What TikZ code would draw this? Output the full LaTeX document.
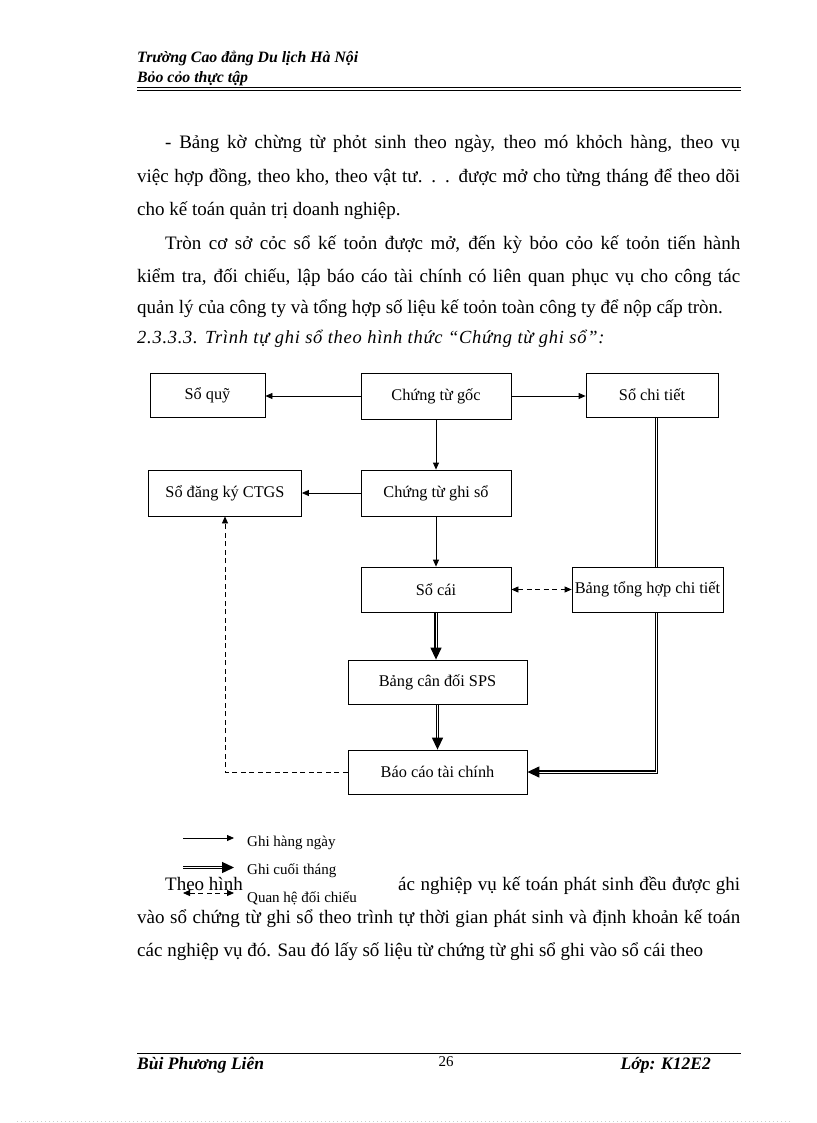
\documentclass[tikz,border=0pt]{standalone}
\usepackage{fontspec}
\setmainfont{Liberation Serif}
\usetikzlibrary{arrows.meta,backgrounds}

\begin{document}
\begin{tikzpicture}[x=1pt,y=-1pt,>={Triangle[length=7pt,width=6pt]},
box/.style={draw,line width=0.8pt,minimum height=44pt,inner sep=0pt,font=\fontsize{16.3}{18}\selectfont},
daily/.style={->,line width=0.8pt},
monthly/.style={double,double distance=1pt,line width=1.3pt},
monthly arrow/.style={monthly,-{Triangle[length=12pt,width=11pt]}},
check/.style={line width=0.8pt,dash pattern=on 5pt off 3.5pt},
body/.style={anchor=base west,inner sep=0pt,font=\fontsize{19}{22}\selectfont},
head/.style={anchor=base west,inner sep=0pt,font=\fontsize{15.8}{18}\selectfont\bfseries\itshape},
foot/.style={head,font=\fontsize{17.5}{19}\selectfont\bfseries\itshape},
legend/.style={anchor=west,inner sep=0pt,font=\fontsize{15}{17}\selectfont}]
\useasboundingbox (0,0) rectangle (816,1123);

% header and footer
\node[head] (school) at (137,63) {Trường Cao đẳng Du lịch Hà Nội};
\node[head] (report) at (137,83) {Bỏo cỏo thực tập};
\draw[line width=1.2pt] (137,87.5) -- (741,87.5);
\draw[line width=0.6pt] (137,90.5) -- (741,90.5);
\draw[line width=0.9pt] (137,1053) -- (741,1053);
\node[foot] (author) at (137,1069) {Bùi Phương Liên};
\node[anchor=base,inner sep=0pt,font=\fontsize{15}{17}\selectfont] (page) at (446,1066) {26};
\node[foot,anchor=base east] (class) at (711,1069) {Lớp: K12E2};
\draw[gray!40,line width=0.5pt,dash pattern=on 1pt off 3pt] (17,1121) -- (792,1121);

% text above the diagram
\node[body] (p1) at (165,149) {\makebox[575pt][s]{- Bảng kờ chừng từ phỏt sinh theo ngày, theo mó khỏch hàng, theo vụ}};
\node[body] (p2) at (137,183) {\makebox[603pt][s]{việc hợp đồng, theo kho, theo vật tư. . . được mở cho từng tháng để theo dõi}};
\node[body] (p3) at (137,216) {cho kế toán quản trị doanh nghiệp.};
\node[body] (p4) at (165,249) {\makebox[575pt][s]{Tròn cơ sở cỏc sổ kế toỏn được mở, đến kỳ bỏo cỏo kế toỏn tiến hành}};
\node[body] (p5) at (137,282) {\makebox[603pt][s]{kiểm tra, đối chiếu, lập báo cáo tài chính có liên quan phục vụ cho công tác}};
\node[body] (p6) at (137,313) {quản lý của công ty và tổng hợp số liệu kế toỏn toàn công ty để nộp cấp tròn.};
\node[body,font=\fontsize{18.5}{20}\selectfont\itshape\addfontfeatures{LetterSpace=4}] (title) at (137,343) {2.3.3.3. Trình tự ghi sổ theo hình thức “Chứng từ ghi sổ”:};

% diagram
\node[box,minimum width=115pt] (quy) at (207.5,395) {Sổ quỹ};
\node[box,minimum width=150pt,minimum height=46pt] (goc) at (436,396) {Chứng từ gốc};
\node[box,minimum width=132pt] (chitiet) at (652,395) {Sổ chi tiết};
\node[box,minimum width=153pt,minimum height=46pt] (dangky) at (225,493) {Sổ đăng ký CTGS};
\node[box,minimum width=150pt,minimum height=46pt] (ghiso) at (436,493) {Chứng từ ghi sổ};
\node[box,minimum width=150pt,minimum height=45pt] (socai) at (436,589.5) {Sổ cái};
\node[box,minimum width=151pt,minimum height=45pt] (tonghop) at (647.5,589.5) {Bảng tổng hợp chi tiết};
\node[box,minimum width=179pt] (candoi) at (437.5,682) {Bảng cân đối SPS};
\node[box,minimum width=179pt] (baocao) at (437.5,772) {Báo cáo tài chính};
\coordinate (side) at (656.5,772);

\begin{scope}[on background layer]
\fill[white] (0,0) rectangle (816,1123);
\draw[daily] (goc.west) -- (goc.west -| quy.east);
\draw[daily] (goc.east) -- (goc.east -| chitiet.west);
\draw[daily] (goc) -- (ghiso);
\draw[daily] (ghiso) -- (dangky);
\draw[daily] (ghiso) -- (socai);
\draw[check,<->] (socai) -- (tonghop);
\draw[monthly arrow] (socai.south) -- (socai.south |- candoi.north);
\draw[monthly arrow] (candoi.south) -- (candoi.south |- baocao.north);
\draw[monthly] (chitiet.south -| side) -- (tonghop.north -| side);
\draw[monthly arrow] (tonghop.south -| side) -- (side) -- (baocao.east);
\draw[check,->] (baocao.west) -| (dangky.south);
\end{scope}

% text below the diagram
\node[body] (p7) at (165,890) {Theo hình};
\node[body] (p7b) at (398,890) {\makebox[342pt][s]{ác nghiệp vụ kế toán phát sinh đều được ghi}};
\node[body] (p8) at (137,923) {\makebox[603pt][s]{vào sổ chứng từ ghi sổ theo trình tự thời gian phát sinh và định khoản kế toán}};
\node[body] (p9) at (137,956) {các nghiệp vụ đó. Sau đó lấy số liệu từ chứng từ ghi sổ ghi vào sổ cái theo};

% legend
\coordinate (d1) at (183,838); \coordinate (d2) at (234,838);
\coordinate (m1) at (183,867.5); \coordinate (m2) at (234,867.5);
\coordinate (c1) at (183,893); \coordinate (c2) at (234,893);
\draw[daily] (d1) -- (d2);
\draw[monthly arrow] (m1) -- (m2);
\draw[check,<->] (c1) -- (c2);
\node[legend] (ld) at (247,843) {Ghi hàng ngày};
\node[legend] (lm) at (247,871) {Ghi cuối tháng};
\node[legend] (lc) at (247,898) {Quan hệ đối chiếu};
\end{tikzpicture}
\end{document}
